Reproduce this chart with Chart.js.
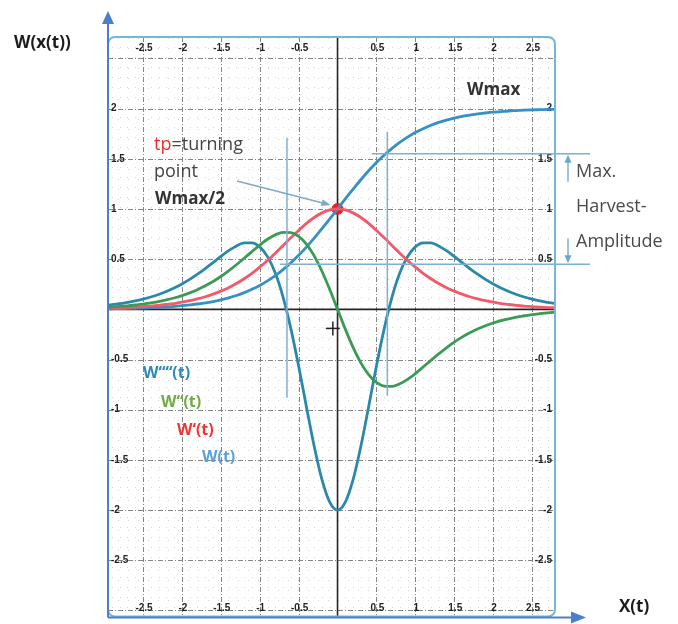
<!DOCTYPE html>
<html>
<head>
<meta charset="utf-8">
<script src="https://cdn.jsdelivr.net/npm/chart.js@4"></script>
<style>
  html, body { margin: 0; padding: 0; background: #fff; }
  #wrap { position: relative; width: 678px; height: 624px; }
  canvas { display: block; }
</style>
</head>
<body>
<div id="wrap"><canvas id="chart" width="678" height="624"></canvas></div>
<script>
// --------- Data ---------
const tValues = [
  -3.0, -2.9, -2.8, -2.7, -2.6, -2.5, -2.4, -2.3, -2.2, -2.1,
  -2.0, -1.9, -1.8, -1.7, -1.6, -1.5, -1.4, -1.3, -1.2, -1.1,
  -1.0, -0.9, -0.8, -0.7, -0.6, -0.5, -0.4, -0.3, -0.2, -0.1,
  0.0, 0.1, 0.2, 0.3, 0.4, 0.5, 0.6, 0.7, 0.8, 0.9,
  1.0, 1.1, 1.2, 1.3, 1.4, 1.5, 1.6, 1.7, 1.8, 1.9,
  2.0, 2.1, 2.2, 2.3, 2.4, 2.5, 2.6, 2.7, 2.8
];
// W(t)
const wValues = [
  0.005, 0.006, 0.007, 0.009, 0.011, 0.013, 0.016, 0.020, 0.024, 0.030,
  0.036, 0.044, 0.053, 0.065, 0.078, 0.095, 0.115, 0.138, 0.166, 0.200,
  0.238, 0.284, 0.336, 0.396, 0.463, 0.538, 0.620, 0.709, 0.803, 0.900,
  1.000, 1.100, 1.197, 1.291, 1.380, 1.462, 1.537, 1.604, 1.664, 1.716,
  1.762, 1.800, 1.834, 1.862, 1.885, 1.905, 1.922, 1.935, 1.947, 1.956,
  1.964, 1.970, 1.976, 1.980, 1.984, 1.987, 1.989, 1.991, 1.993
];
// W'(t)
const w1Values = [
  0.010, 0.012, 0.015, 0.018, 0.022, 0.027, 0.032, 0.039, 0.048, 0.058,
  0.071, 0.086, 0.104, 0.125, 0.151, 0.181, 0.216, 0.257, 0.305, 0.359,
  0.420, 0.487, 0.559, 0.635, 0.712, 0.786, 0.856, 0.915, 0.961, 0.990,
  1.000, 0.990, 0.961, 0.915, 0.856, 0.786, 0.712, 0.635, 0.559, 0.487,
  0.420, 0.359, 0.305, 0.257, 0.216, 0.181, 0.151, 0.125, 0.104, 0.086,
  0.071, 0.058, 0.048, 0.039, 0.032, 0.027, 0.022, 0.018, 0.015
];
// W''(t)
const w2Values = [
  0.020, 0.024, 0.029, 0.035, 0.043, 0.052, 0.064, 0.077, 0.094, 0.113,
  0.136, 0.164, 0.196, 0.234, 0.277, 0.327, 0.383, 0.444, 0.509, 0.575,
  0.640, 0.698, 0.742, 0.767, 0.764, 0.727, 0.650, 0.533, 0.379, 0.197,
  0.000, -0.197, -0.379, -0.533, -0.650, -0.727, -0.764, -0.767, -0.742, -0.698,
  -0.640, -0.575, -0.509, -0.444, -0.383, -0.327, -0.277, -0.234, -0.196, -0.164,
  -0.136, -0.113, -0.094, -0.077, -0.064, -0.052, -0.043, -0.035, -0.029
];
// W'''(t)
const w3Values = [
  0.039, 0.047, 0.057, 0.070, 0.084, 0.102, 0.123, 0.148, 0.178, 0.213,
  0.253, 0.298, 0.350, 0.406, 0.466, 0.527, 0.584, 0.632, 0.662, 0.663,
  0.622, 0.525, 0.361, 0.122, -0.192, -0.565, -0.970, -1.364, -1.697, -1.921,
  -2.000, -1.921, -1.697, -1.364, -0.970, -0.565, -0.192, 0.122, 0.361, 0.525,
  0.622, 0.663, 0.662, 0.632, 0.584, 0.527, 0.466, 0.406, 0.350, 0.298,
  0.253, 0.213, 0.178, 0.148, 0.123, 0.102, 0.084, 0.070, 0.057
];
const xTickLabels = [-2.5, -2, -1.5, -1, -0.5, 0.5, 1, 1.5, 2, 2.5];
const yTickLabels = [2, 1.5, 1, 0.5, -0.5, -1, -1.5, -2, -2.5];
const turningPointX = [0];
const turningPointY = [1];
const inflectionT = [-0.65, 0.64];
const harvestLevels = [1.55, 0.45];

function points(ys) {
  return tValues.map((t, i) => ({ x: t, y: ys[i] }));
}

function line(ctx, x1, y1, x2, y2) {
  ctx.beginPath();
  ctx.moveTo(x1, y1);
  ctx.lineTo(x2, y2);
  ctx.stroke();
}

function arrowHead(ctx, x1, y1, x2, y2, len, half) {
  const ang = Math.atan2(y2 - y1, x2 - x1);
  ctx.beginPath();
  ctx.moveTo(x2, y2);
  ctx.lineTo(x2 - len * Math.cos(ang) + half * Math.sin(ang), y2 - len * Math.sin(ang) - half * Math.cos(ang));
  ctx.lineTo(x2 - len * Math.cos(ang) - half * Math.sin(ang), y2 - len * Math.sin(ang) + half * Math.cos(ang));
  ctx.closePath();
  ctx.fill();
}

// --------- Graph paper: grid, axes, tick labels ---------
const paperPlugin = {
  id: "paper",
  beforeDatasetsDraw(chart) {
    const { ctx, chartArea: a, scales: { x, y } } = chart;
    ctx.save();
    ctx.beginPath();
    ctx.rect(a.left, a.top, a.width, a.height);
    ctx.clip();

    // minor dotted lines every 0.1
    ctx.strokeStyle = "rgba(150,150,150,0.4)";
    ctx.lineWidth = 1;
    ctx.setLineDash([1, 9]);
    for (let v = -30; v <= 28; v++) {
      if (v % 5 === 0) continue;
      const px = Math.round(x.getPixelForValue(v / 10)) + 0.5;
      line(ctx, px, a.top, px, a.bottom);
    }
    for (let v = -31; v <= 27; v++) {
      if (v % 5 === 0) continue;
      const py = Math.round(y.getPixelForValue(v / 10)) + 0.5;
      line(ctx, a.left, py, a.right, py);
    }

    // major dashed lines every 0.5
    ctx.strokeStyle = "#858585";
    ctx.setLineDash([5, 2, 1, 2]);
    for (let v = -6; v <= 5; v++) {
      if (v === 0) continue;
      const px = Math.round(x.getPixelForValue(v / 2)) + 0.5;
      line(ctx, px, a.top, px, a.bottom);
      const py = Math.round(y.getPixelForValue(v / 2)) + 0.5;
      line(ctx, a.left, py, a.right, py);
    }

    // axes through the origin
    ctx.setLineDash([]);
    ctx.strokeStyle = "#2b2323";
    ctx.lineWidth = 1.6;
    const x0 = x.getPixelForValue(0);
    const y0 = y.getPixelForValue(0);
    line(ctx, x0, a.top, x0, a.bottom);
    line(ctx, a.left, y0, a.right, y0);

    // tick labels on all four sides
    ctx.fillStyle = "#222";
    ctx.font = "bold 10px 'Liberation Sans Narrow', 'Liberation Sans', sans-serif";
    ctx.textBaseline = "middle";
    ctx.textAlign = "center";
    xTickLabels.forEach(v => {
      const px = x.getPixelForValue(v) + 1;
      ctx.fillText(String(v), px, a.top + 11);
      ctx.fillText(String(v), px, a.bottom - 9);
    });
    yTickLabels.forEach(v => {
      const py = y.getPixelForValue(v);
      ctx.textAlign = "left";
      ctx.fillText(String(v), a.left + 3, py);
      ctx.textAlign = "right";
      ctx.fillText(String(v), a.right - 3, py);
    });
    ctx.restore();
  },

  afterDatasetsDraw(chart) {
    const { ctx, chartArea: a, scales: { x, y } } = chart;
    ctx.save();
    ctx.strokeStyle = "#7fb0cf";
    ctx.fillStyle = "#6aa8cf";
    ctx.lineWidth = 1.5;

    // inflection markers
    line(ctx, x.getPixelForValue(inflectionT[0]), y.getPixelForValue(1.71),
      x.getPixelForValue(inflectionT[0]), y.getPixelForValue(-0.88));
    line(ctx, x.getPixelForValue(inflectionT[1]), y.getPixelForValue(1.77),
      x.getPixelForValue(inflectionT[1]), y.getPixelForValue(-0.86));

    // harvest amplitude band
    line(ctx, x.getPixelForValue(0.44), y.getPixelForValue(harvestLevels[0]),
      590, y.getPixelForValue(harvestLevels[0]));
    line(ctx, x.getPixelForValue(-0.74), y.getPixelForValue(harvestLevels[1]),
      590, y.getPixelForValue(harvestLevels[1]));
    const ax = 568;
    const yTop = y.getPixelForValue(harvestLevels[0]);
    const yBot = y.getPixelForValue(harvestLevels[1]);
    line(ctx, ax, yTop + 28, ax, yTop + 4);
    arrowHead(ctx, ax, yTop + 28, ax, yTop + 1, 8, 3.5);
    line(ctx, ax, yBot - 26, ax, yBot - 4);
    arrowHead(ctx, ax, yBot - 26, ax, yBot - 1, 8, 3.5);

    // pointer from "point" to the turning point
    ctx.strokeStyle = "#7fa9c6";
    ctx.fillStyle = "#7fa9c6";
    const tx = x.getPixelForValue(turningPointX[0]) - 7;
    const ty = y.getPixelForValue(turningPointY[0]) - 4;
    line(ctx, 237, 181, tx - 4, ty - 1);
    arrowHead(ctx, 237, 181, tx, ty, 9, 3.5);

    // small cross below the origin
    ctx.strokeStyle = "#222";
    ctx.lineWidth = 1.5;
    const cx = x.getPixelForValue(-0.06);
    const cy = y.getPixelForValue(-0.19);
    line(ctx, cx - 7, cy, cx + 7, cy);
    line(ctx, cx, cy - 7, cx, cy + 7);

    // paper frame
    ctx.strokeStyle = "#74b8d6";
    ctx.lineWidth = 2;
    ctx.beginPath();
    ctx.roundRect(a.left, a.top, a.width, a.height - 1, 7);
    ctx.stroke();

    // blue coordinate arrows
    ctx.strokeStyle = "#4a7fc9";
    ctx.fillStyle = "#4a7fc9";
    ctx.lineWidth = 2;
    line(ctx, a.left, a.bottom, a.left, 22);
    arrowHead(ctx, a.left, a.bottom, a.left, 11, 13, 6);
    line(ctx, a.left, a.bottom, 572, a.bottom);
    arrowHead(ctx, a.left, a.bottom, 586, a.bottom, 15, 6);
    ctx.restore();
  },

  afterDraw(chart) {
    const { ctx } = chart;
    ctx.save();
    ctx.textBaseline = "middle";
    ctx.textAlign = "left";

    ctx.fillStyle = "#1c1c1c";
    ctx.font = "bold 17px 'Open Sans', sans-serif";
    ctx.fillText("W(x(t))", 14, 43);
    ctx.fillText("X(t)", 619, 607);

    ctx.fillStyle = "#333";
    ctx.font = "bold 17px 'Open Sans', sans-serif";
    ctx.fillText("Wmax", 467, 90);
    ctx.fillText("Wmax/2", 155, 199);

    ctx.font = "18px 'Open Sans', sans-serif";
    ctx.fillStyle = "#ee2f2f";
    ctx.fillText("tp", 154, 145);
    const tpW = ctx.measureText("tp").width;
    ctx.fillStyle = "#444";
    ctx.fillText("=turning", 154 + tpW, 145);
    ctx.fillText("point", 154, 172);

    ctx.fillStyle = "#4a4a4a";
    ctx.fillText("Max.", 576, 172);
    ctx.fillText("Harvest-", 576, 207);
    ctx.fillText("Amplitude", 576, 242);

    ctx.font = "bold 16px 'Open Sans', sans-serif";
    ctx.fillStyle = "#2e8ab8";
    ctx.fillText("W\u2018\u2018\u2018\u2018(t)", 143, 373);
    ctx.fillStyle = "#6faa45";
    ctx.fillText("W\u2018\u2018(t)", 161, 402);
    ctx.fillStyle = "#ef3535";
    ctx.fillText("W\u2018(t)", 177, 430);
    ctx.fillStyle = "#5a9fd8";
    ctx.fillText("W(t)", 202, 457);
    ctx.restore();
  }
};

// --------- Chart ---------
const curveStyle = {
  pointRadius: 0,
  borderWidth: 2.8,
  showLine: true,
  cubicInterpolationMode: "monotone",
  fill: false
};

new Chart(document.getElementById("chart"), {
  type: "scatter",
  data: {
    datasets: [
      { label: "W''(t)", data: points(w2Values), borderColor: "#3c9a57", ...curveStyle },
      { label: "W'(t)", data: points(w1Values), borderColor: "#f05a6b", ...curveStyle },
      { label: "W(t)", data: points(wValues), borderColor: "#3590c3", ...curveStyle },
      { label: "W'''(t)", data: points(w3Values), borderColor: "#2a89ab", ...curveStyle },
      {
        label: "tp",
        data: turningPointX.map((t, i) => ({ x: t, y: turningPointY[i] })),
        pointRadius: 5.5,
        pointBackgroundColor: "#ea2027",
        pointBorderColor: "#ea2027",
        showLine: false
      }
    ]
  },
  options: {
    responsive: false,
    animation: false,
    events: [],
    layout: { padding: { left: 108, right: 123, top: 37, bottom: 3 } },
    plugins: { legend: { display: false }, tooltip: { enabled: false } },
    scales: {
      x: { type: "linear", min: -2.95, max: 2.795, display: false },
      y: { type: "linear", min: -3.07, max: 2.713, display: false }
    }
  },
  plugins: [paperPlugin]
});
</script>
</body>
</html>
